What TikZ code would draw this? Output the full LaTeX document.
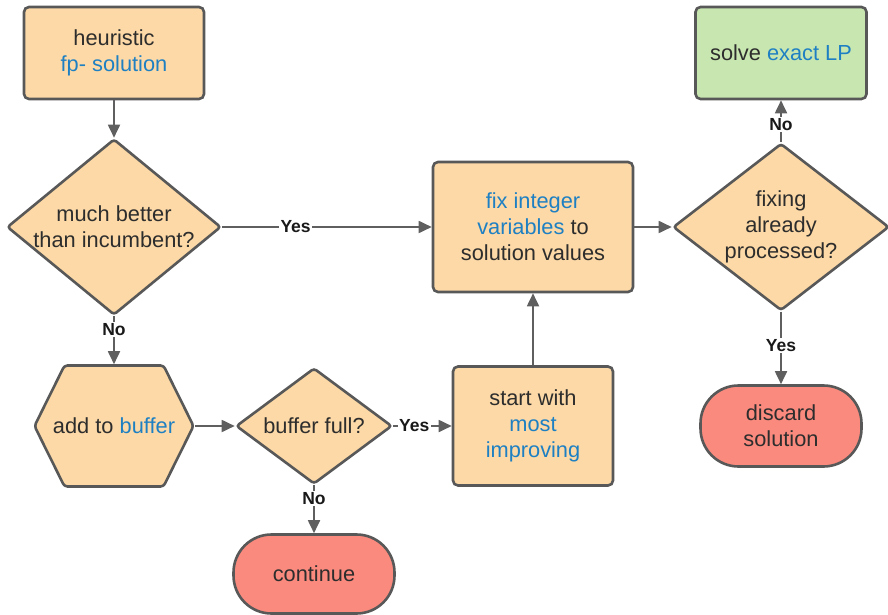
\documentclass[tikz,border=0pt]{standalone}
\usepackage{fontspec}
\setmainfont{Liberation Sans}
\usetikzlibrary{shapes.geometric,arrows.meta}
\definecolor{boxorange}{RGB}{252,217,166}
\definecolor{boxgreen}{RGB}{200,230,176}
\definecolor{boxred}{RGB}{250,138,126}
\definecolor{edgegray}{RGB}{88,88,88}
\definecolor{linegray}{RGB}{95,95,95}
\definecolor{txtgray}{RGB}{45,45,45}
\definecolor{hlblue}{RGB}{30,128,195}
\newcommand{\bl}[1]{\textcolor{hlblue}{#1}}
\newcommand{\mainfs}{\fontsize{21.8}{26}\selectfont}
\newcommand{\labfs}{\fontsize{17.5}{20}\selectfont\bfseries}
\tikzset{
  base/.style={draw=edgegray, line width=2.6pt, fill=boxorange, font=\mainfs, text=txtgray, align=center, inner sep=0pt},
  rbox/.style={base, rectangle, rounded corners=5pt},
  dia/.style={base, diamond, rounded corners=3pt},
  stad/.style={base, rectangle, fill=boxred, rounded corners=38pt},
  ghost/.style={rectangle, inner sep=0pt, outer sep=1.3pt},
  txt/.style={font=\mainfs, text=txtgray, align=center, inner sep=0pt},
  conn/.style={draw=linegray, line width=1.8pt, -{Triangle[length=13pt,width=12pt]}},
  lab/.style={fill=white, font=\labfs, text=black!90, inner sep=1.5pt}
}
\begin{document}
\begin{tikzpicture}[x=1pt,y=-1pt]
\useasboundingbox (0,0) rectangle (888,615);
% nodes
\node[rbox, minimum width=180pt, minimum height=92pt] (heur) at (114,53) {heuristic\\\bl{fp- solution}};
\node[dia, minimum width=214pt, minimum height=176pt] (much) at (114,227) {};
\node[txt] (mucht) at (much) {much better\\than incumbent?};
\node[rbox, minimum width=200pt, minimum height=130pt] (fix) at (533,227) {\bl{fix integer}\\\bl{variables} to\\solution values};
\node[dia, minimum width=216pt, minimum height=167pt] (proc) at (781,227) {};
\node[txt] (proct) at (proc) {fixing\\already\\processed?};
\node[rbox, fill=boxgreen, minimum width=171pt, minimum height=92pt] (lp) at (781,53) {solve \bl{exact LP}};
% hexagon
\node[ghost, minimum width=159pt, minimum height=121pt] (hex) at (114,426) {};
\draw[draw=edgegray, line width=2.6pt, fill=boxorange, rounded corners=3pt, line join=round]
  (114-79.5,426) -- (114-49.5,426-60.5) -- (114+49.5,426-60.5) -- (114+79.5,426)
  -- (114+49.5,426+60.5) -- (114-49.5,426+60.5) -- cycle;
\node[txt] (hext) at (hex) {add to \bl{buffer}};
\node[dia, minimum width=156pt, minimum height=116pt] (full) at (314,426) {};
\node[txt] (fullt) at (full) {buffer full?};
\node[rbox, minimum width=160pt, minimum height=119pt] (start) at (533,426) {start with\\\bl{most}\\\bl{improving}};
\node[stad, minimum width=161pt, minimum height=79pt] (cont) at (314,574) {continue};
\node[stad, minimum width=161pt, minimum height=81pt] (disc) at (781,426) {discard\\solution};
% connectors
\draw[conn] (heur.south) -- (much.north);
\draw[conn] (much.east) -- node[lab, pos=0.35] {Yes} (fix.west);
\draw[conn] (much.south) -- node[lab, pos=0.27] {No} (hex.north);
\draw[conn] (hex.east) -- (full.west);
\draw[conn] (full.east) -- node[lab, pos=0.36] {Yes} (start.west);
\draw[conn] (full.south) -- node[lab, pos=0.27] {No} (cont.north);
\draw[conn] (start.north) -- (fix.south);
\draw[conn] (fix.east) -- (proc.west);
\draw[conn] (proc.north) -- node[lab, pos=0.42] {No} (lp.south);
\draw[conn] (proc.south) -- node[lab, pos=0.46] {Yes} (disc.north);
\end{tikzpicture}
\end{document}
